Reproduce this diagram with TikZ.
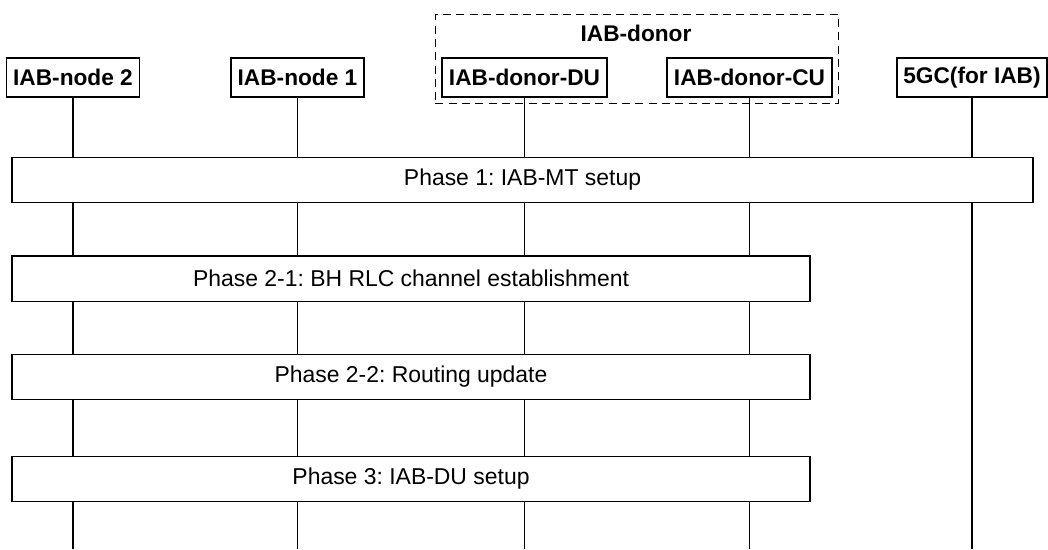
\documentclass[tikz,border=0pt]{standalone}
\usepackage{fontspec}
\setmainfont{Liberation Sans}
\frenchspacing
\usetikzlibrary{positioning,fit,backgrounds}
\tikzset{
  ent/.style={draw,line width=1.3pt,inner xsep=5pt,inner ysep=0pt,
    minimum height=29pt,font=\fontsize{17}{19}\selectfont\bfseries},
  grp/.style={draw,line width=1pt,dash pattern=on 6pt off 4pt,inner sep=4.5pt},
  phase/.style={draw,fill=white,line width=1pt,minimum height=34pt,
    inner sep=0pt,font=\fontsize{17.2}{19}\selectfont},
  life/.style={line width=0.8pt},
}
\begin{document}
\begin{tikzpicture}[x=0.75pt,y=-0.75pt]
\useasboundingbox (0,0) rectangle (1048,549);

% entities
\node[ent] (n2) at (73,77.5) {IAB-node 2};
\node[ent] (n1) at (297.5,77.5) {IAB-node 1};
\node[ent] (du) at (524.5,77.5) {IAB-donor-DU};
\node[ent] (cu) at (749.5,77.5) {IAB-donor-CU};
\node[ent] (cn) at (972,77.5) {5GC(for IAB)};

\node[font=\fontsize{17}{19}\selectfont\bfseries,inner sep=3pt] (donor) at (636,33) {IAB-donor};
\node[grp,fit=(du)(cu)(donor)] (donorbox) {};

% lifelines
\foreach \e in {n2,n1,du,cu,cn}
  \coordinate (\e end) at (\e |- 0,549);
\begin{scope}[on background layer]
\foreach \e in {n2,n1,du,cu,cn}
  \draw[life] (\e.south) -- (\e end);
\end{scope}

% phases
\node[phase,minimum width=765.75pt] (ph1) at (522.5,180) {Phase 1: IAB-MT setup};
\node[phase,minimum width=598.5pt] (ph21) at (411,278.5) {Phase 2-1: BH RLC channel establishment};
\node[phase,minimum width=598.5pt] (ph22) at (411,377) {Phase 2-2: Routing update};
\node[phase,minimum width=598.5pt] (ph3) at (411,479) {Phase 3: IAB-DU setup};
\end{tikzpicture}
\end{document}
